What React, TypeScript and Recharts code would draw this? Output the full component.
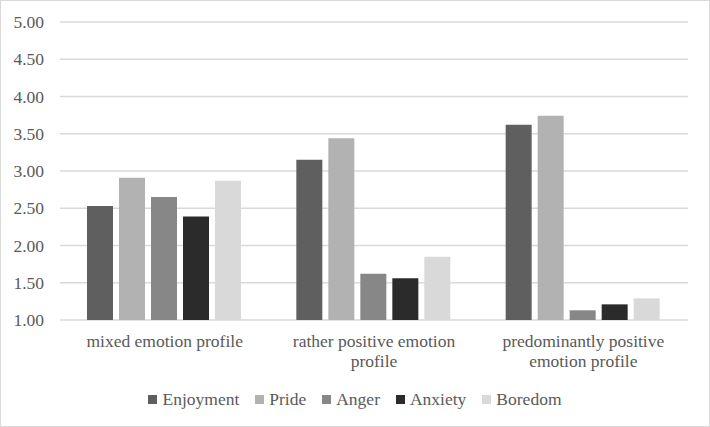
import React from "react";
import { BarChart, Bar, XAxis, YAxis, CartesianGrid, Legend, Text } from "recharts";

const profiles = ["mixed emotion profile", "rather positive emotion profile", "predominantly positive emotion profile"];
const enjoyment = [2.53, 3.15, 3.62];
const pride = [2.91, 3.44, 3.74];
const anger = [2.65, 1.62, 1.13];
const anxiety = [2.39, 1.56, 1.21];
const boredom = [2.87, 1.85, 1.29];
const yTicks = [1, 1.5, 2, 2.5, 3, 3.5, 4, 4.5, 5];

const SERIES = [
  { key: "Enjoyment", values: enjoyment, color: "#5f5f5f" },
  { key: "Pride", values: pride, color: "#b2b2b2" },
  { key: "Anger", values: anger, color: "#878787" },
  { key: "Anxiety", values: anxiety, color: "#2b2b2b" },
  { key: "Boredom", values: boredom, color: "#d9d9d9" },
];

const data = profiles.map((name, i) => {
  const row: Record<string, string | number> = { name };
  SERIES.forEach(s => { row[s.key] = s.values[i]; });
  return row;
});

const FONT = '"Liberation Serif", "Times New Roman", serif';
const TEXT = "#595959";

function CategoryTick(props: any) {
  const { x, y, payload } = props;
  return (
    <Text
      x={x}
      y={y}
      width={190}
      textAnchor="middle"
      verticalAnchor="start"
      lineHeight={20}
      fontSize={17.5}
      fontFamily={FONT}
      fill={TEXT}
    >
      {payload.value}
    </Text>
  );
}

function LegendContent() {
  return (
    <div style={{ display: "flex", justifyContent: "center", gap: 16, fontFamily: FONT, fontSize: 17.5, color: TEXT, height: 20, lineHeight: "20px" }}>
      {SERIES.map(s => (
        <div key={s.key} style={{ display: "flex", alignItems: "center" }}>
          <span style={{ width: 9, height: 9, background: s.color, marginRight: 5, display: "inline-block" }} />
          <span>{s.key}</span>
        </div>
      ))}
    </div>
  );
}

export default function App() {
  return (
    <div style={{ position: "absolute", left: 0, top: 0, width: 710, height: 427, boxSizing: "border-box", border: "1px solid #d9d9d9", background: "#fff" }}>
      <BarChart
        width={708}
        height={425}
        data={data}
        margin={{ top: 21, right: 21, bottom: 26, left: 0 }}
        barCategoryGap={27}
        barGap={6}
      >
        <CartesianGrid vertical={false} stroke="#d9d9d9" strokeWidth={1.4} />
        <XAxis
          dataKey="name"
          axisLine={false}
          tickLine={false}
          height={60}
          tickMargin={9}
          interval={0}
          tick={<CategoryTick />}
        />
        <YAxis
          domain={[1, 5]}
          ticks={yTicks}
          width={59}
          axisLine={false}
          tickLine={false}
          tickMargin={10}
          tickFormatter={(v: number) => v.toFixed(2)}
          tick={{ fontSize: 17.5, fontFamily: FONT, fill: TEXT }}
        />
        <Legend
          verticalAlign="bottom"
          height={20}
          content={<LegendContent />}
          wrapperStyle={{ left: 0, width: 708, top: 388 }}
        />
        {SERIES.map(s => (
          <Bar key={s.key} dataKey={s.key} fill={s.color} isAnimationActive={false} />
        ))}
      </BarChart>
    </div>
  );
}
